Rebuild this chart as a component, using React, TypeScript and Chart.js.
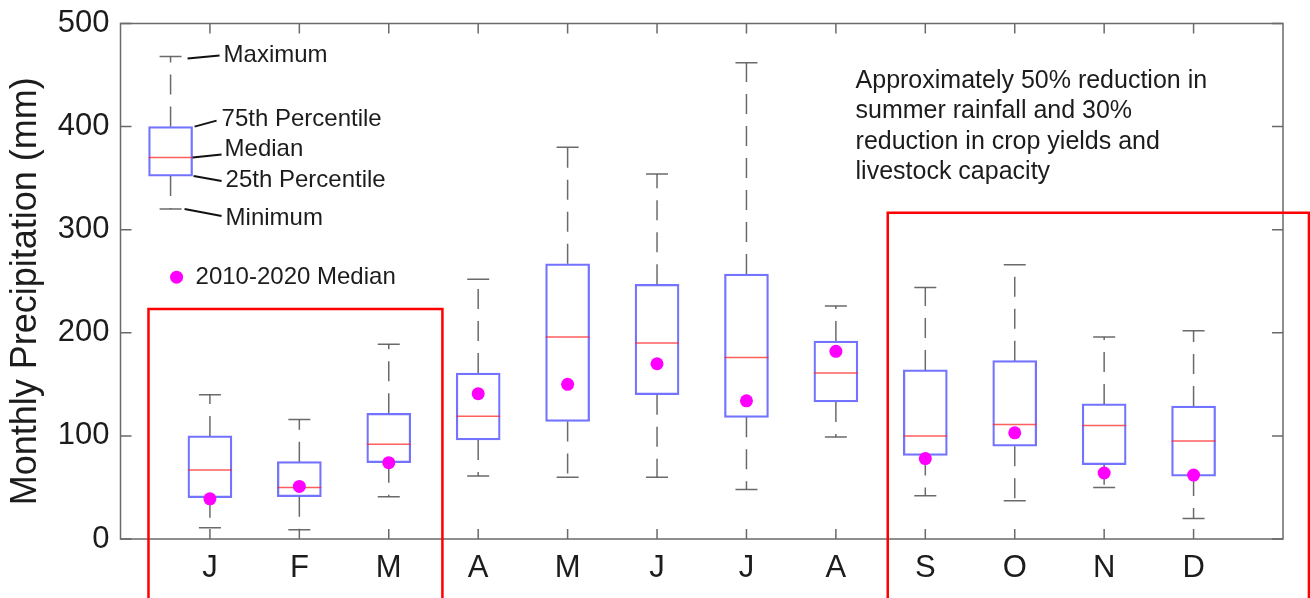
import React, { useEffect, useRef } from 'react';
import { Chart, registerables } from 'chart.js';

Chart.register(...registerables);

// ---------------- data ----------------
const months = ['J', 'F', 'M', 'A', 'M', 'J', 'J', 'A', 'S', 'O', 'N', 'D'];
const maxVals = [140, 116, 189, 252, 380, 354, 462, 226, 244, 266, 196, 202];
const q3Vals = [100, 75, 122, 161, 267, 247, 257, 192, 164, 173, 131, 129];
const medianVals = [67, 50, 92, 119, 196, 190, 176, 161, 100, 111, 110, 95];
const q1Vals = [40, 41, 74, 96, 114, 140, 118, 133, 81, 90, 72, 61];
const minVals = [11, 9, 41, 61, 60, 60, 48, 99, 42, 37, 50, 20];
const recentMedianVals = [39, 51, 74, 141, 150, 170, 134, 182, 78, 103, 64, 62];
const yTickVals = [0, 100, 200, 300, 400, 500];

// explanatory key box: min, q1, median, q3, max
const keyBoxVals = [320, 352, 370, 400, 468];
const keyLabels = ['Maximum', '75th Percentile', 'Median', '25th Percentile', 'Minimum'];
const dotLabel = '2010-2020 Median';
const yTitle = 'Monthly Precipitation (mm)';
const noteLines = [
  'Approximately 50% reduction in',
  'summer rainfall and 30%',
  'reduction in crop yields and',
  'livestock capacity',
];

// ---------------- styling ----------------
const FONT = '"Liberation Sans", Arial, Helvetica, sans-serif';
const TEXT = '#1c1c1c';
const AXIS = '#6a6a6a';
const BOX = 'rgba(40,40,255,0.65)';
const MED = 'rgba(255,40,40,0.75)';
const WHISK = 'rgba(90,90,90,0.9)';
const DOT = '#ff00ff';
const KEY_X = 0.56;

const decorPlugin = {
  id: 'decor',
  afterDatasetsDraw(chart: any) {
    const { ctx, chartArea, scales } = chart;
    const xs = scales.x;
    const ys = scales.y;
    const { left, right, top, bottom } = chartArea;
    ctx.save();
    // frame
    ctx.strokeStyle = AXIS;
    ctx.lineWidth = 1.5;
    ctx.strokeRect(left, top, right - left, bottom - top);
    // inner ticks
    ctx.beginPath();
    months.forEach((_, i) => {
      const px = xs.getPixelForValue(i + 1);
      ctx.moveTo(px, bottom);
      ctx.lineTo(px, bottom - 10);
      ctx.moveTo(px, top);
      ctx.lineTo(px, top + 10);
    });
    yTickVals.forEach((v) => {
      const py = ys.getPixelForValue(v);
      ctx.moveTo(left, py);
      ctx.lineTo(left + 11, py);
      ctx.moveTo(right, py);
      ctx.lineTo(right - 11, py);
    });
    ctx.stroke();

    // y-axis title
    ctx.fillStyle = TEXT;
    ctx.font = `36px ${FONT}`;
    ctx.textAlign = 'center';
    ctx.textBaseline = 'middle';
    ctx.save();
    ctx.translate(26.5, (top + bottom) / 2 + 10);
    ctx.rotate(-Math.PI / 2);
    ctx.fillText(yTitle, 0, 0);
    ctx.restore();

    // key labels with leader lines
    const cx = xs.getPixelForValue(KEY_X);
    const yMin = ys.getPixelForValue(keyBoxVals[0]);
    const yQ1 = ys.getPixelForValue(keyBoxVals[1]);
    const yMed = ys.getPixelForValue(keyBoxVals[2]);
    const yQ3 = ys.getPixelForValue(keyBoxVals[3]);
    const yMax = ys.getPixelForValue(keyBoxVals[4]);
    const leaders = [
      { a: [cx + 17, yMax + 2], b: [cx + 49, yMax - 1], t: [cx + 53, yMax - 1] },
      { a: [cx + 24, yQ3], b: [cx + 46, yQ3 - 6], t: [cx + 51, yQ3 - 7] },
      { a: [cx + 22, yMed], b: [cx + 51, yMed - 3], t: [cx + 54, yMed - 8] },
      { a: [cx + 23, yQ1], b: [cx + 51, yQ1 + 5], t: [cx + 55, yQ1 + 4] },
      { a: [cx + 14, yMin], b: [cx + 51, yMin + 7], t: [cx + 55, yMin + 9] },
    ];
    ctx.strokeStyle = '#111';
    ctx.lineWidth = 2;
    ctx.font = `24px ${FONT}`;
    ctx.textAlign = 'left';
    leaders.forEach((l, i) => {
      ctx.beginPath();
      ctx.moveTo(l.a[0], l.a[1]);
      ctx.lineTo(l.b[0], l.b[1]);
      ctx.stroke();
      ctx.fillText(keyLabels[i], l.t[0], l.t[1]);
    });
    // dot key
    const dy = ys.getPixelForValue(254);
    ctx.fillStyle = DOT;
    ctx.beginPath();
    ctx.arc(cx + 6, dy, 6.5, 0, Math.PI * 2);
    ctx.fill();
    ctx.fillStyle = TEXT;
    ctx.fillText(dotLabel, cx + 25, dy);

    // annotation
    ctx.font = `25px ${FONT}`;
    const nx = xs.getPixelForValue(8.22);
    const ny = ys.getPixelForValue(444);
    noteLines.forEach((s, i) => ctx.fillText(s, nx, ny + i * 30.3));
    ctx.restore();
  },
  afterDraw(chart: any) {
    const { ctx, scales, height } = chart;
    const xs = scales.x;
    const ys = scales.y;
    ctx.save();
    ctx.strokeStyle = '#ff0000';
    ctx.lineWidth = 2.5;
    const rects = [
      { x1: 0.313, x2: 3.6, yTop: 223 },
      { x1: 8.58, x2: 13.29, yTop: 316.5 },
    ];
    rects.forEach((r) => {
      const a = xs.getPixelForValue(r.x1);
      const b = xs.getPixelForValue(r.x2);
      const t = ys.getPixelForValue(r.yTop);
      ctx.beginPath();
      ctx.moveTo(a, height + 5);
      ctx.lineTo(a, t);
      ctx.lineTo(b, t);
      ctx.lineTo(b, height + 5);
      ctx.stroke();
    });
    ctx.restore();
  },
};

export default function App() {
  const ref = useRef<HTMLCanvasElement>(null);
  useEffect(() => {
    const xs = months.map((_, i) => i + 1);
    const boxData = xs.map((x, i) => ({ x, y: [q1Vals[i], q3Vals[i]] }));
    boxData.push({ x: KEY_X, y: [keyBoxVals[1], keyBoxVals[3]] });
    const medData = xs.map((x, i) => ({ x, y: medianVals[i] }));
    medData.push({ x: KEY_X, y: keyBoxVals[2] });
    const capData: any[] = [];
    const whiskData: any[] = [];
    xs.forEach((x, i) => {
      capData.push({ x, y: maxVals[i] }, { x, y: minVals[i] });
      whiskData.push(
        { x, y: q3Vals[i] }, { x, y: maxVals[i] }, { x, y: null },
        { x, y: q1Vals[i] }, { x, y: minVals[i] }, { x, y: null },
      );
    });
    capData.push({ x: KEY_X, y: keyBoxVals[4] }, { x: KEY_X, y: keyBoxVals[0] });
    whiskData.push(
      { x: KEY_X, y: keyBoxVals[3] }, { x: KEY_X, y: keyBoxVals[4] }, { x: KEY_X, y: null },
      { x: KEY_X, y: keyBoxVals[1] }, { x: KEY_X, y: keyBoxVals[0] },
    );
    const dotData = xs.map((x, i) => ({ x, y: recentMedianVals[i] }));

    const chart = new Chart(ref.current as HTMLCanvasElement, {
      type: 'scatter',
      data: {
        datasets: [
          {
            type: 'line',
            label: 'whiskers',
            data: whiskData,
            borderColor: WHISK,
            borderWidth: 1.5,
            borderDash: [20, 12],
            pointRadius: 0,
            spanGaps: false,
            fill: false,
            order: 5,
          } as any,
          {
            type: 'scatter',
            label: 'caps',
            data: capData,
            pointStyle: 'line',
            pointRadius: 11,
            pointBorderColor: WHISK,
            pointBorderWidth: 1.5,
            order: 4,
          } as any,
          {
            type: 'bar',
            label: 'boxes',
            data: boxData,
            backgroundColor: 'rgba(255,255,255,0)',
            borderColor: BOX,
            borderWidth: 1.6,
            borderSkipped: false,
            barThickness: 44,
            grouped: false,
            order: 3,
          } as any,
          {
            type: 'scatter',
            label: 'medians',
            data: medData,
            pointStyle: 'line',
            pointRadius: 22,
            pointBorderColor: MED,
            pointBorderWidth: 1.5,
            order: 2,
          } as any,
          {
            type: 'scatter',
            label: '2010-2020 Median',
            data: dotData,
            pointStyle: 'circle',
            pointRadius: 6.5,
            pointBackgroundColor: DOT,
            pointBorderWidth: 0,
            order: 1,
          } as any,
        ],
      },
      options: {
        animation: false,
        responsive: false,
        devicePixelRatio: 1,
        layout: { padding: { top: 23, right: 27, left: 0, bottom: 0 } },
        plugins: { legend: { display: false }, tooltip: { enabled: false } },
        events: [],
        scales: {
          x: {
            type: 'linear',
            offset: false,
            min: 0,
            max: 13,
            border: { display: false },
            grid: { display: false, drawTicks: false, offset: false },
            afterFit: (s: any) => {
              s.height = 59;
              s.paddingLeft = 0;
              s.paddingRight = 0;
            },
            ticks: {
              stepSize: 1,
              autoSkip: false,
              maxRotation: 0,
              padding: 11,
              color: TEXT,
              font: { family: FONT, size: 31 },
              callback: (v: any) => months[Math.round(Number(v)) - 1] ?? '',
            },
          },
          y: {
            type: 'linear',
            min: 0,
            max: 500,
            border: { display: false },
            grid: { display: false, drawTicks: false },
            afterFit: (s: any) => {
              s.width = 120.5;
              s.paddingTop = 0;
              s.paddingBottom = 0;
            },
            ticks: {
              stepSize: 100,
              padding: 11,
              color: TEXT,
              font: { family: FONT, size: 31 },
            },
          },
        },
      },
      plugins: [decorPlugin],
    });
    return () => chart.destroy();
  }, []);

  return (
    <div style={{ position: 'fixed', left: 0, top: 0, width: 1310, height: 598, background: '#fff' }}>
      <canvas ref={ref} width={1310} height={598} style={{ display: 'block' }} />
    </div>
  );
}
